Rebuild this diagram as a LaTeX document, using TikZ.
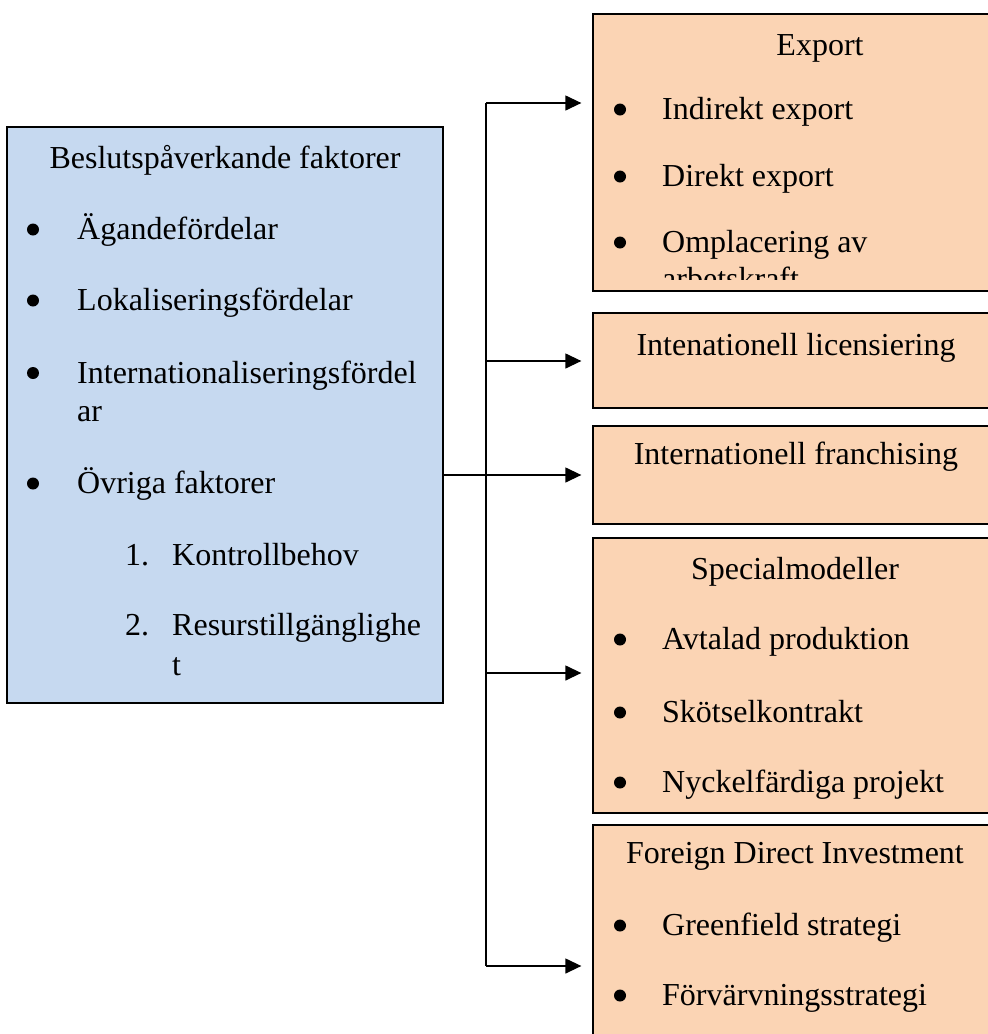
\documentclass[tikz,border=0pt]{standalone}
\usepackage{fontspec}
\setmainfont{Liberation Serif}
\usetikzlibrary{arrows.meta}
\definecolor{boxblue}{RGB}{198,217,240}
\definecolor{boxorange}{RGB}{251,212,180}
\newcommand\bfnt{\fontsize{32}{38}\selectfont}
\tikzset{
  box/.style={draw=black, line width=1.3pt, rectangle, inner sep=0pt},
  lbox/.style={box, fill=boxblue},
  rbox/.style={box, fill=boxorange},
  txt/.style={anchor=base west, inner sep=0pt, font=\bfnt},
  ctxt/.style={anchor=base, inner sep=0pt, font=\bfnt},
  conn/.style={line width=1.3pt},
  arr/.style={conn, -{Triangle[length=16pt,width=15pt]}, shorten >=11pt},
  bullet/.style={fill=black},
}
\begin{document}
\begin{tikzpicture}[x=1pt,y=-1pt]
\useasboundingbox (0,0) rectangle (988,1034);
\clip (0,0) rectangle (988,1034);

% boxes
\node[lbox, minimum width=436pt, minimum height=576pt] (L) at (225,415) {};
\node[rbox, minimum width=467pt, minimum height=277pt] (E) at (826.5,152.5) {};
\node[rbox, minimum width=467pt, minimum height=95pt] (Li) at (826.5,360.5) {};
\node[rbox, minimum width=467pt, minimum height=98pt] (Fr) at (826.5,475) {};
\node[rbox, minimum width=467pt, minimum height=275pt] (Sp) at (826.5,675.5) {};
\node[rbox, minimum width=467pt, minimum height=235pt] (FD) at (826.5,942.5) {};

% left box text
\node[ctxt] (Lt) at (225,168) {Beslutspåverkande faktorer};
\fill[bullet] (33,229.5) circle (6pt);
\node[txt] (L1) at (77,239) {Ägandefördelar};
\fill[bullet] (33,300.5) circle (6pt);
\node[txt] (L2) at (77,310) {Lokaliseringsfördelar};
\fill[bullet] (33,373) circle (6pt);
\node[txt] (L3) at (77,383) {Internationaliseringsfördel};
\node[txt] (L3b) at (77,421) {ar};
\fill[bullet] (33,483.5) circle (6pt);
\node[txt] (L4) at (77,493) {Övriga faktorer};
\node[txt] (N1) at (125,565) {1.};
\node[txt] (L5) at (172,565) {Kontrollbehov};
\node[txt] (N2) at (125,635) {2.};
\node[txt] (L6) at (172,635) {Resurstillgänglighe};
\node[txt] (L6b) at (172,675) {t};

% export box text (clipped)
\begin{scope}
\clip (593,14) rectangle (1060,279);
\node[ctxt] (Et) at (820,55) {Export};
\fill[bullet] (620,109.5) circle (6pt);
\node[txt] (E1) at (662,119) {Indirekt export};
\fill[bullet] (620,176.5) circle (6pt);
\node[txt] (E2) at (662,186) {Direkt export};
\fill[bullet] (620,242.5) circle (6pt);
\node[txt] (E3) at (662,252) {Omplacering av};
\node[txt] (E3b) at (662,289) {arbetskraft};
\end{scope}

\node[ctxt] (Lit) at (796,355) {Intenationell licensiering};
\node[ctxt] (Frt) at (796,464) {Internationell franchising};

\node[ctxt] (Spt) at (795,579) {Specialmodeller};
\fill[bullet] (620,639.5) circle (6pt);
\node[txt] (S1) at (662,649) {Avtalad produktion};
\fill[bullet] (620,712.5) circle (6pt);
\node[txt] (S2) at (662,722) {Skötselkontrakt};
\fill[bullet] (620,782.5) circle (6pt);
\node[txt] (S3) at (662,792) {Nyckelfärdiga projekt};

\node[ctxt] (FDt) at (795,863) {Foreign Direct Investment};
\fill[bullet] (620,925.5) circle (6pt);
\node[txt] (F1) at (662,935) {Greenfield strategi};
\fill[bullet] (620,995.5) circle (6pt);
\node[txt] (F2) at (662,1005) {Förvärvningsstrategi};

% connectors
\coordinate (t1) at (486,103);
\coordinate (t2) at (486,361);
\coordinate (t4) at (486,673);
\coordinate (t5) at (486,966);
\draw[conn] (t1) -- (t5);
\draw[arr] (L.east |- Fr.west) -- (Fr.west);
\draw[arr] (t1) -- (t1 -| E.west);
\draw[arr] (t2) -- (t2 -| Li.west);
\draw[arr] (t4) -- (t4 -| Sp.west);
\draw[arr] (t5) -- (t5 -| FD.west);
\end{tikzpicture}
\end{document}
